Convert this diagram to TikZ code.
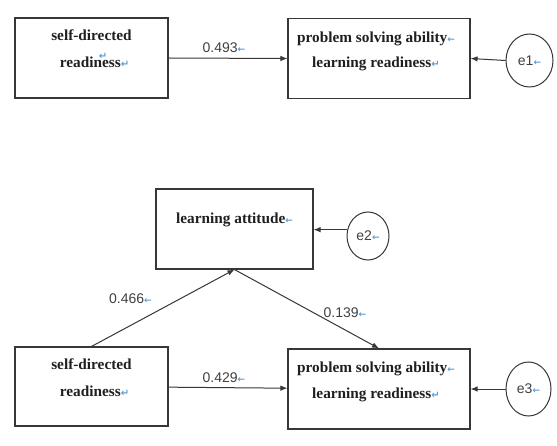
\documentclass[tikz,border=0pt]{standalone}
\usepackage{fontspec}
\setmainfont{Liberation Serif}
\newfontfamily\numfont{Liberation Sans}
\newfontfamily\markfont{DejaVu Sans}
\usetikzlibrary{shapes.geometric,calc,arrows.meta}
\definecolor{linegray}{RGB}{55,55,55}
\definecolor{markblue}{RGB}{91,155,213}
\newcommand{\mkarrow}{{\markfont\bfseries\fontsize{9}{9}\selectfont\textcolor{markblue}{←}}}
\newcommand{\mkret}{{\markfont\bfseries\fontsize{10}{10}\selectfont\textcolor{markblue}{↵}}}
\tikzset{
  box/.style={draw=linegray, line width=1.1pt, rectangle, inner sep=0pt},
  err/.style={draw=linegray, line width=1pt, ellipse, inner sep=0pt, font=\numfont\fontsize{14}{14}\selectfont, text=black!75},
  btxt/.style={font=\fontsize{15.3}{15.3}\selectfont\bfseries, text=black!88, inner sep=0pt, anchor=base},
  num/.style={font=\numfont\fontsize{14}{14}\selectfont, text=black!75, inner sep=0pt},
  conn/.style={draw=linegray, line width=1pt, -{Latex[length=7pt,width=5.5pt]}}
}
\begin{document}
\begin{tikzpicture}[x=1pt,y=-1pt]
\useasboundingbox (0,0) rectangle (557,446);
\fill[white] (0,0) rectangle (557,446);
% top model
\node[box, minimum width=153pt, minimum height=80pt] (sd1) at (91.5,58) {};
\node[box, minimum width=182pt, minimum height=80.5pt] (ps1) at (379,58.5) {};
\node[err, minimum width=47pt, minimum height=53pt] (e1) at (529.5,60.5) {e1\mkarrow};
\node[btxt] (sd1a) at ($(sd1.north)+(0,23)$) {self-directed};
\node[btxt] (sd1b) at ($(sd1.north)+(3,50)$) {readiness\mkret};
\node[inner sep=0pt] (sd1m) at (103,56) {\mkret};
\node[btxt] (ps1a) at ($(ps1.north)+(-3,24.5)$) {problem solving ability\mkarrow};
\node[btxt] (ps1b) at ($(ps1.north)+(-3,50)$) {learning readiness\mkret};
\draw[conn] (sd1.east) -- (ps1.west);
\draw[conn] (e1.west) -- (ps1.east);
\node[num] (l1) at (224,47.5) {0.493\mkarrow};
% bottom model
\node[box, minimum width=157pt, minimum height=80pt] (la) at (234.5,229) {};
\node[btxt] (lat) at ($(la.north)+(0,35)$) {learning attitude\mkarrow};
\node[err, minimum width=42pt, minimum height=48pt] (e2) at (368,236) {e2\mkarrow};
\node[box, minimum width=153pt, minimum height=79pt] (sd2) at (91.5,386.5) {};
\node[btxt] (sd2a) at ($(sd2.north)+(0,23.5)$) {self-directed};
\node[btxt] (sd2b) at ($(sd2.north)+(3,50)$) {readiness\mkret};
\node[box, minimum width=182pt, minimum height=80pt] (ps2) at (379,389) {};
\node[btxt] (ps2a) at ($(ps2.north)+(-3,24.5)$) {problem solving ability\mkarrow};
\node[btxt] (ps2b) at ($(ps2.north)+(-3,50)$) {learning readiness\mkret};
\node[err, minimum width=45pt, minimum height=54pt] (e3) at (528.5,389) {e3\mkarrow};
\draw[conn] (e2.163) -- (e2.163 -| la.east);
\draw[conn] (sd2.north) -- (la.south);
\draw[conn] (la.south) -- (ps2.north);
\draw[conn] (sd2) -- (ps2);
\draw[conn] (e3.west) -- (ps2.east);
\node[num] (l2) at (130.5,299) {0.466\mkarrow};
\node[num] (l3) at (345,313) {0.139\mkarrow};
\node[num] (l4) at (224,378) {0.429\mkarrow};
\end{tikzpicture}
\end{document}
